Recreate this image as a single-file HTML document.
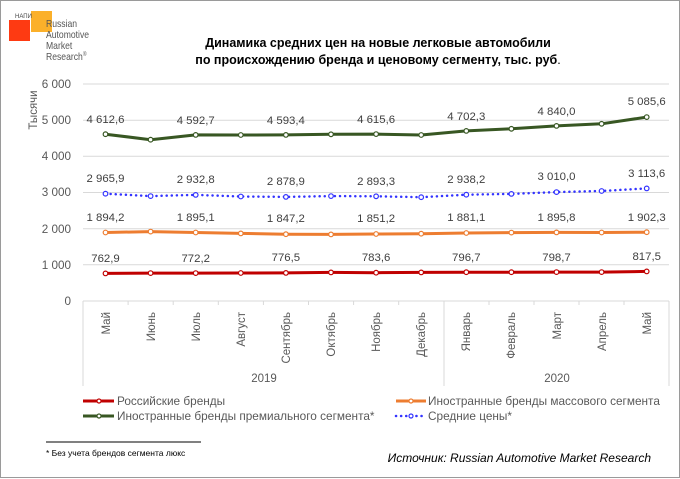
<!DOCTYPE html>
<html><head><meta charset="utf-8"><style>
body{margin:0;background:#fff}
svg{display:block;font-family:"Liberation Sans",sans-serif}
</style></head><body>
<svg width="680" height="479" viewBox="0 0 680 479">
<rect x="0.5" y="0.5" width="679" height="477" fill="#fff" stroke="#9a9a9a"/>
<rect x="9" y="20" width="21" height="21" fill="#fe3a12"/>
<rect x="31" y="11" width="21" height="21" fill="#fbb02a"/>
<text x="15" y="18" font-size="6" fill="#444">НАПИ</text>
<g font-size="10.5" fill="#555" transform="translate(46,0) scale(0.82,1)">
<text x="0" y="27">Russian</text><text x="0" y="38">Automotive</text><text x="0" y="49">Market</text><text x="0" y="60">Research<tspan font-size="6" dy="-4">®</tspan></text>
</g>
<g font-size="12.5" font-weight="bold" text-anchor="middle" fill="#000">
<text x="378" y="47">Динамика средних цен на новые легковые автомобили</text>
<text x="378" y="64">по происхождению бренда и ценовому сегменту, тыс. руб<tspan font-weight="normal">.</tspan></text>
</g>
<g stroke="#d9d9d9" stroke-width="1">
<line x1="83" y1="84" x2="669" y2="84"/><line x1="83" y1="120.2" x2="669" y2="120.2"/><line x1="83" y1="156.3" x2="669" y2="156.3"/><line x1="83" y1="192.5" x2="669" y2="192.5"/><line x1="83" y1="228.7" x2="669" y2="228.7"/><line x1="83" y1="264.8" x2="669" y2="264.8"/><line x1="83" y1="301" x2="669" y2="301"/>
<line x1="83" y1="301" x2="83" y2="386"/><line x1="444" y1="301" x2="444" y2="386"/><line x1="669" y1="301" x2="669" y2="386"/>
<line x1="128.1" y1="301" x2="128.1" y2="305"/><line x1="173.2" y1="301" x2="173.2" y2="305"/><line x1="218.3" y1="301" x2="218.3" y2="305"/><line x1="263.4" y1="301" x2="263.4" y2="305"/><line x1="308.5" y1="301" x2="308.5" y2="305"/><line x1="353.6" y1="301" x2="353.6" y2="305"/><line x1="398.7" y1="301" x2="398.7" y2="305"/><line x1="489" y1="301" x2="489" y2="305"/><line x1="534" y1="301" x2="534" y2="305"/><line x1="579" y1="301" x2="579" y2="305"/><line x1="624" y1="301" x2="624" y2="305"/>
</g>
<g font-size="11.7" fill="#595959" text-anchor="end">
<text x="71" y="88">6 000</text><text x="71" y="124">5 000</text><text x="71" y="160">4 000</text><text x="71" y="196">3 000</text><text x="71" y="233">2 000</text><text x="71" y="269">1 000</text><text x="71" y="305">0</text>
</g>
<text transform="translate(37,110) rotate(-90)" font-size="11.5" fill="#595959" text-anchor="middle">Тысячи</text>
<g font-size="11.5" fill="#595959" text-anchor="end">
<text transform="translate(110,312) rotate(-90)">Май</text>
<text transform="translate(155,312) rotate(-90)">Июнь</text>
<text transform="translate(200,312) rotate(-90)">Июль</text>
<text transform="translate(245,312) rotate(-90)">Август</text>
<text transform="translate(290,312) rotate(-90)">Сентябрь</text>
<text transform="translate(335,312) rotate(-90)">Октябрь</text>
<text transform="translate(380,312) rotate(-90)">Ноябрь</text>
<text transform="translate(425,312) rotate(-90)">Декабрь</text>
<text transform="translate(470,312) rotate(-90)">Январь</text>
<text transform="translate(515,312) rotate(-90)">Февраль</text>
<text transform="translate(561,312) rotate(-90)">Март</text>
<text transform="translate(606,312) rotate(-90)">Апрель</text>
<text transform="translate(651,312) rotate(-90)">Май</text>
</g>
<g font-size="11.5" fill="#595959" text-anchor="middle"><text x="264" y="382">2019</text><text x="557" y="382">2020</text></g>
<g fill="none" stroke-width="3" stroke-linejoin="round">
<polyline stroke="#385723" points="105.5,134.2 150.6,139.7 195.7,134.9 240.8,135 285.9,134.9 331,134.3 376.1,134.1 421.2,135 466.3,130.9 511.4,128.8 556.5,125.9 601.6,123.8 646.7,117.1"/>
<polyline stroke="#ed7d31" points="105.5,232.5 150.6,231.6 195.7,232.5 240.8,233.4 285.9,234.2 331,234.4 376.1,234 421.2,233.7 466.3,233 511.4,232.6 556.5,232.4 601.6,232.5 646.7,232.2"/>
<polyline stroke="#c00000" points="105.5,273.4 150.6,273.1 195.7,273.1 240.8,273 285.9,272.9 331,272.4 376.1,272.7 421.2,272.4 466.3,272.2 511.4,272.2 556.5,272.1 601.6,272.1 646.7,271.4"/>
<polyline stroke="#3333ff" stroke-width="2.5" stroke-dasharray="0.1 5" stroke-linecap="round" points="105.5,193.7 150.6,196.1 195.7,194.9 240.8,196.5 285.9,196.9 331,196.1 376.1,196.3 421.2,197.2 466.3,194.7 511.4,193.9 556.5,192.1 601.6,191 646.7,188.4"/>
</g>
<g fill="#fff" stroke-width="1.2">
<g stroke="#385723"><circle cx="105.5" cy="134.2" r="2.3"/><circle cx="150.6" cy="139.7" r="2.3"/><circle cx="195.7" cy="134.9" r="2.3"/><circle cx="240.8" cy="135" r="2.3"/><circle cx="285.9" cy="134.9" r="2.3"/><circle cx="331" cy="134.3" r="2.3"/><circle cx="376.1" cy="134.1" r="2.3"/><circle cx="421.2" cy="135" r="2.3"/><circle cx="466.3" cy="130.9" r="2.3"/><circle cx="511.4" cy="128.8" r="2.3"/><circle cx="556.5" cy="125.9" r="2.3"/><circle cx="601.6" cy="123.8" r="2.3"/><circle cx="646.7" cy="117.1" r="2.3"/></g>
<g stroke="#ed7d31"><circle cx="105.5" cy="232.5" r="2.3"/><circle cx="150.6" cy="231.6" r="2.3"/><circle cx="195.7" cy="232.5" r="2.3"/><circle cx="240.8" cy="233.4" r="2.3"/><circle cx="285.9" cy="234.2" r="2.3"/><circle cx="331" cy="234.4" r="2.3"/><circle cx="376.1" cy="234" r="2.3"/><circle cx="421.2" cy="233.7" r="2.3"/><circle cx="466.3" cy="233" r="2.3"/><circle cx="511.4" cy="232.6" r="2.3"/><circle cx="556.5" cy="232.4" r="2.3"/><circle cx="601.6" cy="232.5" r="2.3"/><circle cx="646.7" cy="232.2" r="2.3"/></g>
<g stroke="#c00000"><circle cx="105.5" cy="273.4" r="2.3"/><circle cx="150.6" cy="273.1" r="2.3"/><circle cx="195.7" cy="273.1" r="2.3"/><circle cx="240.8" cy="273" r="2.3"/><circle cx="285.9" cy="272.9" r="2.3"/><circle cx="331" cy="272.4" r="2.3"/><circle cx="376.1" cy="272.7" r="2.3"/><circle cx="421.2" cy="272.4" r="2.3"/><circle cx="466.3" cy="272.2" r="2.3"/><circle cx="511.4" cy="272.2" r="2.3"/><circle cx="556.5" cy="272.1" r="2.3"/><circle cx="601.6" cy="272.1" r="2.3"/><circle cx="646.7" cy="271.4" r="2.3"/></g>
<g stroke="#3333ff"><circle cx="105.5" cy="193.7" r="2.3"/><circle cx="150.6" cy="196.1" r="2.3"/><circle cx="195.7" cy="194.9" r="2.3"/><circle cx="240.8" cy="196.5" r="2.3"/><circle cx="285.9" cy="196.9" r="2.3"/><circle cx="331" cy="196.1" r="2.3"/><circle cx="376.1" cy="196.3" r="2.3"/><circle cx="421.2" cy="197.2" r="2.3"/><circle cx="466.3" cy="194.7" r="2.3"/><circle cx="511.4" cy="193.9" r="2.3"/><circle cx="556.5" cy="192.1" r="2.3"/><circle cx="601.6" cy="191" r="2.3"/><circle cx="646.7" cy="188.4" r="2.3"/></g>
</g>
<g font-size="11.4" fill="#404040" text-anchor="middle">
<text x="105.5" y="123">4 612,6</text><text x="195.7" y="124">4 592,7</text><text x="285.9" y="124">4 593,4</text><text x="376.1" y="123">4 615,6</text><text x="466.3" y="120">4 702,3</text><text x="556.5" y="115">4 840,0</text><text x="646.7" y="105">5 085,6</text>
<text x="105.5" y="182">2 965,9</text><text x="195.7" y="183">2 932,8</text><text x="285.9" y="185">2 878,9</text><text x="376.1" y="185">2 893,3</text><text x="466.3" y="183">2 938,2</text><text x="556.5" y="180">3 010,0</text><text x="646.7" y="177">3 113,6</text>
<text x="105.5" y="221">1 894,2</text><text x="195.7" y="221">1 895,1</text><text x="285.9" y="222">1 847,2</text><text x="376.1" y="222">1 851,2</text><text x="466.3" y="221">1 881,1</text><text x="556.5" y="221">1 895,8</text><text x="646.7" y="221">1 902,3</text>
<text x="105.5" y="262">762,9</text><text x="195.7" y="262">772,2</text><text x="285.9" y="261">776,5</text><text x="376.1" y="261">783,6</text><text x="466.3" y="261">796,7</text><text x="556.5" y="261">798,7</text><text x="646.7" y="260">817,5</text>
</g>
<g stroke-width="3">
<line x1="83" y1="401" x2="114" y2="401" stroke="#c00000"/><line x1="83" y1="416" x2="114" y2="416" stroke="#385723"/>
<line x1="396" y1="401" x2="426" y2="401" stroke="#ed7d31"/>
<line x1="396" y1="416" x2="426" y2="416" stroke="#3333ff" stroke-width="2.5" stroke-dasharray="0.1 5" stroke-linecap="round"/>
</g>
<g fill="#fff" stroke-width="1.2"><circle cx="99" cy="401" r="2" stroke="#c00000"/><circle cx="99" cy="416" r="2" stroke="#385723"/><circle cx="411" cy="401" r="2" stroke="#ed7d31"/><circle cx="411" cy="416" r="2" stroke="#3333ff"/></g>
<g font-size="11.8" fill="#595959"><text x="117" y="405">Российские бренды</text><text x="117" y="420">Иностранные бренды премиального сегмента*</text><text x="428" y="405">Иностранные бренды массового сегмента</text><text x="428" y="420">Средние цены*</text></g>
<line x1="46" y1="442" x2="201" y2="442" stroke="#000" stroke-width="1"/>
<text x="46" y="456" font-size="8.5" fill="#000">* Без учета брендов сегмента люкс</text>
<text x="651" y="462" font-size="12" font-style="italic" fill="#000" text-anchor="end">Источник: Russian Automotive Market Research</text>
</svg>
</body></html>
